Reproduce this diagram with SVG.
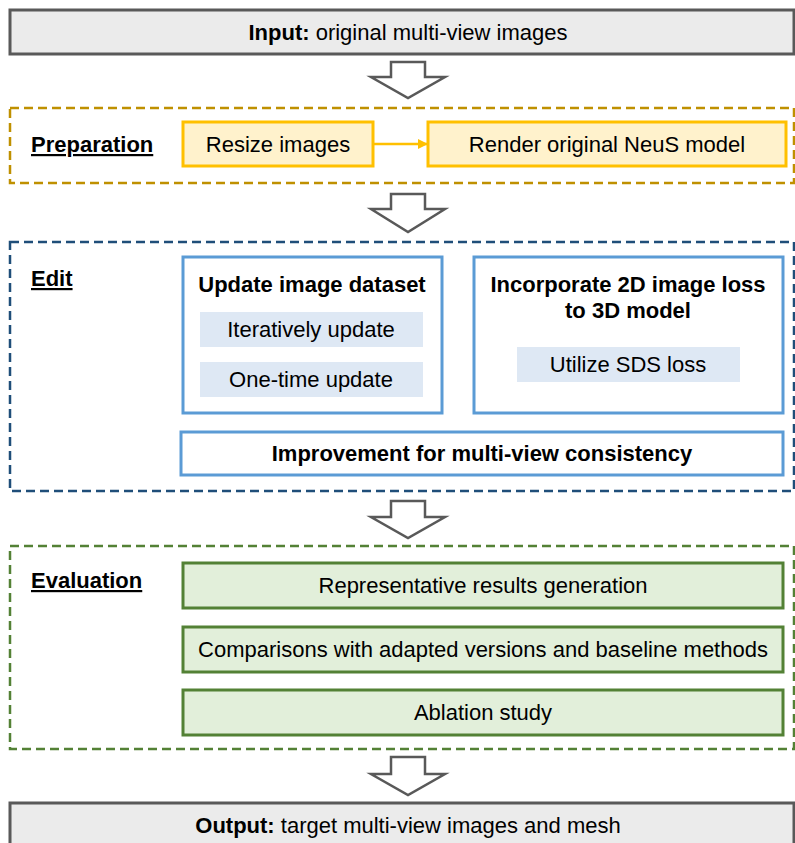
<svg xmlns="http://www.w3.org/2000/svg" width="795" height="843" viewBox="0 0 795 843">
<style>
text{font-family:"Liberation Sans",Arial,sans-serif;font-size:22px;fill:#000}
.b{font-weight:bold}
.c{text-anchor:middle}
.io{fill:#ebebeb;stroke:#595959;stroke-width:3}
.blk{fill:#fff;stroke:#595959;stroke-width:2.5;stroke-linejoin:miter}
.dash{fill:none;stroke-width:2.5;stroke-dasharray:9 5}
.y{fill:#fff2cc;stroke:#ffc000;stroke-width:3}
.bl{fill:#fff;stroke:#5b9bd5;stroke-width:3}
.sub{fill:#dee8f4}
.g{fill:#e2efda;stroke:#538135;stroke-width:3}
</style>
<defs>
<marker id="ah" markerWidth="10" markerHeight="10" refX="9" refY="5" orient="auto" markerUnits="userSpaceOnUse">
<path d="M0,0 L10,5 L0,10 z" fill="#ffc000"/>
</marker>
</defs>

<g id="input">
<rect class="io" x="10" y="10" width="784" height="44"/>
<text class="c" x="408" y="40"><tspan class="b">Input:</tspan> original multi-view images</text>
</g>

<g id="connectors">
<path class="blk" d="M391,62 H425 V77 H445 L408,98 L371,77 H391 Z"/>
<path class="blk" d="M391,194 H425 V209 H445 L408,232 L371,209 H391 Z"/>
<path class="blk" d="M391,501 H425 V517 H445 L408,538 L371,517 H391 Z"/>
<path class="blk" d="M391,757 H425 V774 H445 L408,795 L371,774 H391 Z"/>
<line x1="373" y1="144" x2="427" y2="144" stroke="#ffc000" stroke-width="2.5" marker-end="url(#ah)"/>
</g>

<g id="preparation">
<rect class="dash" x="10" y="108" width="784" height="75" stroke="#bf9000"/>
<text class="b" x="31" y="152" text-decoration="underline">Preparation</text>
</g>
<g id="resize">
<rect class="y" x="183" y="122" width="190" height="44"/>
<text class="c" x="278" y="152">Resize images</text>
</g>
<g id="render">
<rect class="y" x="428" y="122" width="358" height="44"/>
<text class="c" x="607" y="152">Render original NeuS model</text>
</g>

<g id="edit">
<rect class="dash" x="10" y="242" width="784" height="249" stroke="#1f4e79"/>
<text class="b" x="31" y="286" text-decoration="underline">Edit</text>
</g>
<g id="update">
<rect class="bl" x="183" y="257" width="259" height="156"/>
<text class="b c" x="312" y="292">Update image dataset</text>
<rect class="sub" x="200" y="312" width="223" height="35"/>
<text class="c" x="311" y="337">Iteratively update</text>
<rect class="sub" x="200" y="362" width="223" height="35"/>
<text class="c" x="311" y="387">One-time update</text>
</g>
<g id="incorporate">
<rect class="bl" x="474" y="257" width="309" height="156"/>
<text class="b c" x="628" y="292">Incorporate 2D image loss</text>
<text class="b c" x="628" y="318">to 3D model</text>
<rect class="sub" x="517" y="347" width="223" height="35"/>
<text class="c" x="628" y="372">Utilize SDS loss</text>
</g>
<g id="improvement">
<rect class="bl" x="181" y="432" width="602" height="43"/>
<text class="b c" x="482" y="461">Improvement for multi-view consistency</text>
</g>

<g id="evaluation">
<rect class="dash" x="10" y="546" width="784" height="203" stroke="#538135"/>
<text class="b" x="31" y="588" text-decoration="underline">Evaluation</text>
</g>
<g id="representative">
<rect class="g" x="183" y="563" width="600" height="45"/>
<text class="c" x="483" y="593">Representative results generation</text>
</g>
<g id="comparisons">
<rect class="g" x="183" y="627" width="600" height="45"/>
<text class="c" x="483" y="657">Comparisons with adapted versions and baseline methods</text>
</g>
<g id="ablation">
<rect class="g" x="183" y="690" width="600" height="45"/>
<text class="c" x="483" y="720">Ablation study</text>
</g>

<g id="output">
<rect class="io" x="10" y="803" width="784" height="50"/>
<text class="c" x="408" y="833"><tspan class="b">Output:</tspan> target multi-view images and mesh</text>
</g>
</svg>
